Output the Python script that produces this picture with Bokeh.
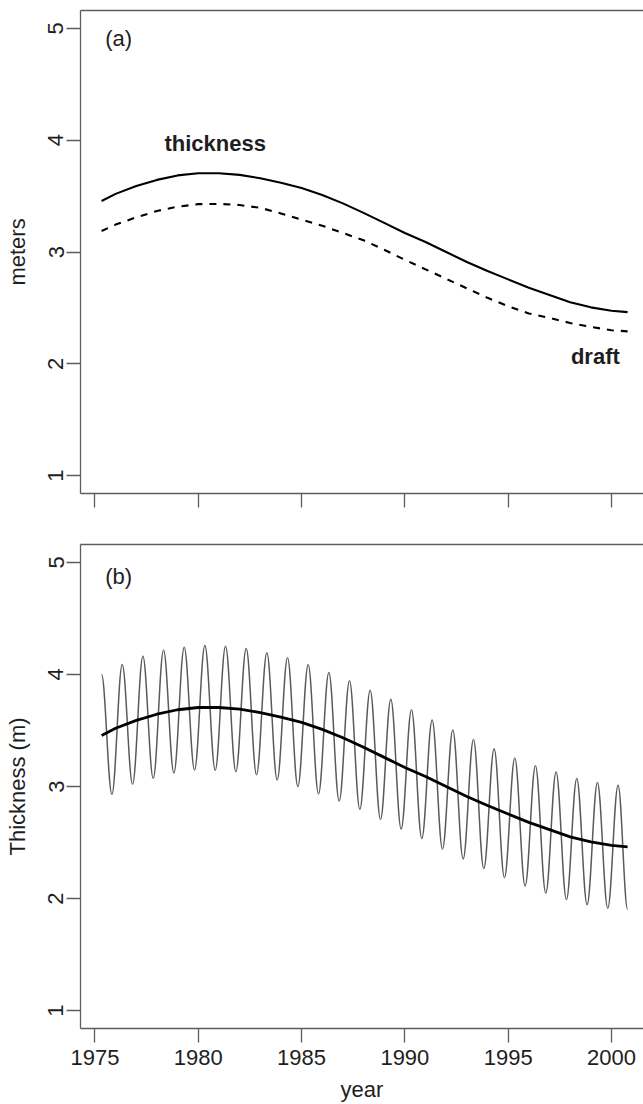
from bokeh.plotting import figure
from bokeh.models import (Range1d, FixedTicker, LinearAxis, Label, ColumnDataSource,
                          CustomJSTickFormatter)
from bokeh.layouts import column
from bokeh.embed import file_html
from bokeh.resources import INLINE

# ---------------- data ----------------
smooth_year = [1975.32, 1976, 1977, 1978, 1979, 1980, 1981, 1982, 1983, 1984,
               1985, 1986, 1987, 1988, 1989, 1990, 1991, 1992, 1993, 1994,
               1995, 1996, 1997, 1998, 1999, 2000, 2000.78]
thickness = [3.456, 3.52, 3.59, 3.645, 3.685, 3.705, 3.705, 3.69, 3.66, 3.62,
             3.572, 3.51, 3.435, 3.35, 3.26, 3.17, 3.09, 3.00, 2.91, 2.83,
             2.755, 2.68, 2.615, 2.55, 2.505, 2.475, 2.462]
draft = [3.188, 3.245, 3.31, 3.367, 3.405, 3.428, 3.43, 3.42, 3.395, 3.345,
         3.29, 3.235, 3.17, 3.105, 3.02, 2.93, 2.845, 2.76, 2.675, 2.59,
         2.515, 2.45, 2.41, 2.365, 2.33, 2.30, 2.29]

# seasonal cycle: spring maxima and autumn minima
peak_year = [1975.32, 1976.32, 1977.32, 1978.32, 1979.32, 1980.32, 1981.32,
             1982.32, 1983.32, 1984.32, 1985.32, 1986.32, 1987.32, 1988.32,
             1989.32, 1990.32, 1991.32, 1992.32, 1993.32, 1994.32, 1995.32,
             1996.32, 1997.32, 1998.32, 1999.32, 2000.32]
peak_value = [4.00, 4.088, 4.162, 4.216, 4.242, 4.258, 4.251, 4.231, 4.193,
              4.150, 4.086, 4.017, 3.943, 3.86, 3.778, 3.686, 3.594, 3.505,
              3.419, 3.336, 3.254, 3.185, 3.129, 3.072, 3.035, 3.012]
trough_year = [1975.82, 1976.82, 1977.82, 1978.82, 1979.82, 1980.82, 1981.82,
               1982.82, 1983.82, 1984.82, 1985.82, 1986.82, 1987.82, 1988.82,
               1989.82, 1990.82, 1991.82, 1992.82, 1993.82, 1994.82, 1995.82,
               1996.82, 1997.82, 1998.82, 1999.82, 2000.78]
trough_value = [2.930, 3.020, 3.073, 3.120, 3.147, 3.145, 3.132, 3.105, 3.058,
                3.000, 2.934, 2.870, 2.796, 2.706, 2.620, 2.535, 2.442, 2.353,
                2.267, 2.186, 2.112, 2.048, 1.990, 1.945, 1.913, 1.904]

y_ticks = [1, 2, 3, 4, 5]
x_ticks = [1975, 1980, 1985, 1990, 1995, 2000]

# ---------------- styling ----------------
FONT = "Liberation Sans"
FS = "22px"
BORDER = "#5c5c5c"
TXT = "#1e1e1e"
XR = (1974.30, 2001.55)
YR = (0.84, 5.16)


def style_axis(ax):
    ax.axis_line_color = BORDER
    ax.axis_line_width = 1.3
    ax.major_tick_line_color = BORDER
    ax.major_tick_line_width = 1.3
    ax.major_tick_out = 14
    ax.major_tick_in = 0
    ax.minor_tick_out = 0
    ax.minor_tick_in = 0
    ax.major_label_text_font = FONT
    ax.major_label_text_font_size = FS
    ax.major_label_text_color = TXT
    ax.axis_label_text_font = FONT
    ax.axis_label_text_font_size = FS
    ax.axis_label_text_font_style = "normal"
    ax.axis_label_text_color = TXT


def make_fig(height, border_top, border_bottom, ylabel, xlabel, show_xlabels):
    p = figure(width=643, height=height, x_range=Range1d(*XR), y_range=Range1d(*YR),
               x_axis_type=None, y_axis_type=None, output_backend="svg",
               toolbar_location=None, min_border_left=80, min_border_right=0,
               min_border_top=border_top, min_border_bottom=border_bottom)
    p.outline_line_color = None
    p.background_fill_color = "white"
    p.border_fill_color = "white"

    left = LinearAxis(ticker=FixedTicker(ticks=y_ticks), axis_label=ylabel)
    style_axis(left)
    left.major_label_orientation = "vertical"
    left.major_label_standoff = 3
    left.axis_label_standoff = 16
    p.add_layout(left, "left")

    bottom = LinearAxis(ticker=FixedTicker(ticks=x_ticks))
    style_axis(bottom)
    if show_xlabels:
        bottom.axis_label = xlabel
        bottom.major_label_standoff = 7
        bottom.axis_label_standoff = 9
    else:
        bottom.formatter = CustomJSTickFormatter(code="return ''")
        bottom.major_label_standoff = 0
    p.add_layout(bottom, "below")

    top = LinearAxis(ticker=FixedTicker(ticks=[]))
    style_axis(top)
    top.major_tick_out = 0
    top.major_label_standoff = 0
    p.add_layout(top, "above")
    return p


# ---------------- panel (a) ----------------
p1 = make_fig(542, 10, 49, "meters", None, False)
src = ColumnDataSource(dict(year=smooth_year, thickness=thickness, draft=draft))
p1.line("year", "thickness", source=src, line_color="black", line_width=2.1)
p1.line("year", "draft", source=src, line_color="black", line_width=2.1,
        line_dash="7 7")
p1.add_layout(Label(x=1975.5, y=4.91, text="(a)", text_font=FONT, text_font_size=FS,
                    text_color=TXT, text_baseline="middle", text_align="left"))
p1.add_layout(Label(x=1980.82, y=3.97, text="thickness", text_font=FONT,
                    text_font_size=FS, text_font_style="bold", text_color=TXT,
                    text_baseline="middle", text_align="center"))
p1.add_layout(Label(x=1999.22, y=2.067, text="draft", text_font=FONT,
                    text_font_size=FS, text_font_style="bold", text_color=TXT,
                    text_baseline="middle", text_align="center"))

# ---------------- panel (b) ----------------
p2 = make_fig(562, 2, 76, "Thickness (m)", "year", True)

# half-cycle arcs between consecutive extrema (smooth cosine-like curve)
ext_x, ext_y = [], []
for i in range(len(peak_year)):
    ext_x += [peak_year[i], trough_year[i]]
    ext_y += [peak_value[i], trough_value[i]]
K = 0.3634
seg = dict(x0=[], y0=[], x1=[], y1=[], cx0=[], cy0=[], cx1=[], cy1=[])
for i in range(len(ext_x) - 1):
    xa, ya, xb, yb = ext_x[i], ext_y[i], ext_x[i + 1], ext_y[i + 1]
    d = xb - xa
    seg["x0"].append(xa); seg["y0"].append(ya)
    seg["x1"].append(xb); seg["y1"].append(yb)
    seg["cx0"].append(xa + K * d); seg["cy0"].append(ya)
    seg["cx1"].append(xb - K * d); seg["cy1"].append(yb)
p2.bezier(x0="x0", y0="y0", x1="x1", y1="y1", cx0="cx0", cy0="cy0",
          cx1="cx1", cy1="cy1", source=ColumnDataSource(seg),
          line_color="#5a5a5a", line_width=1.5)
p2.line("year", "thickness", source=src, line_color="black", line_width=2.8)
p2.add_layout(Label(x=1975.5, y=4.875, text="(b)", text_font=FONT, text_font_size=FS,
                    text_color=TXT, text_baseline="middle", text_align="left"))

layout = column(p1, p2, spacing=0)
open("out.html", "w").write(file_html(layout, INLINE))
